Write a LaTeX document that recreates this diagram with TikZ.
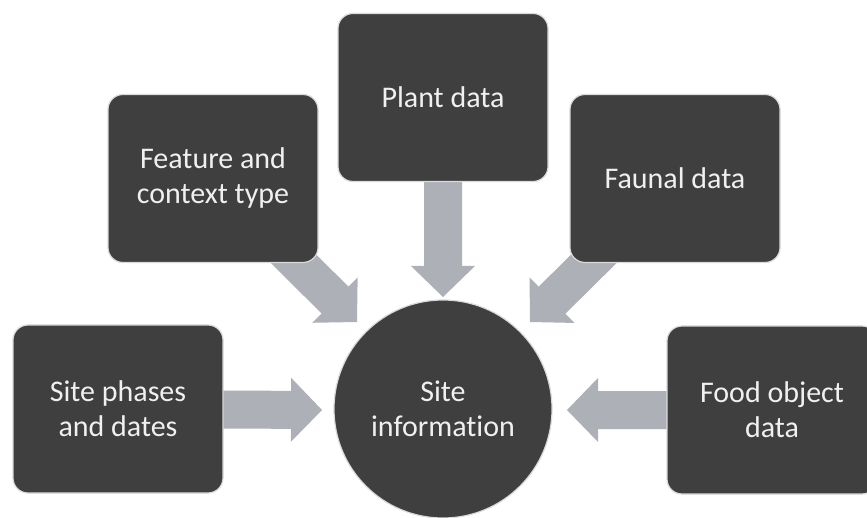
\documentclass[tikz,border=0pt]{standalone}
\usepackage{fontspec}
\setmainfont[Ligatures=NoCommon]{Carlito}
\usetikzlibrary{calc,backgrounds}
\definecolor{boxfill}{RGB}{63,63,63}
\definecolor{arrowfill}{RGB}{173,176,183}
\definecolor{rimcol}{RGB}{218,218,218}
\definecolor{textcol}{RGB}{240,240,240}
% block arrow from #1 (start, hidden behind box) to #2 (tip)
\newcommand\blockarrow[2]{%
  \coordinate (ba) at ($(#2)!31pt!(#1)$);
  \fill[arrowfill]
    ($(#1)!19pt!90:(#2)$) -- ($(ba)!19pt!90:(#2)$) -- ($(ba)!32pt!90:(#2)$)
    -- (#2)
    -- ($(ba)!32pt!-90:(#2)$) -- ($(ba)!19pt!-90:(#2)$) -- ($(#1)!19pt!-90:(#2)$)
    -- cycle;}
\begin{document}
\begin{tikzpicture}[x=1pt,y=-1pt,
  infobox/.style={rectangle, rounded corners=15pt, minimum width=210pt,
    minimum height=168pt, inner sep=0pt, fill=boxfill, draw=rimcol,
    line width=1.2pt, align=center, text=textcol,
    font=\fontsize{30}{35}\selectfont},
  hub/.style={circle, minimum size=218pt, inner sep=0pt, fill=boxfill,
    draw=rimcol, line width=1.2pt, align=center, text=textcol,
    font=\fontsize{30}{35}\selectfont}]
\useasboundingbox (0,0) rectangle (867,518);

\node[infobox] (s) at (118,409) {Site phases\\and dates};
\node[infobox] (f) at (213,178.5) {Feature and\\context type};
\node[infobox] (p) at (443,97.5) {Plant data};
\node[infobox] (a) at (675,178.5) {Faunal data};
\node[infobox] (o) at (772,410) {Food object\\data};
\node[hub] (c) at (443,409) {Site\\information};

\coordinate (ts) at (322,410);
\coordinate (tf) at (357,322);
\coordinate (tp) at (443,297);
\coordinate (ta) at (530,322);
\coordinate (to) at (567,410);

\begin{scope}[on background layer]
  \fill[white] (0,0) rectangle (867,518);
  \blockarrow{s.center}{ts}
  \blockarrow{f.center}{tf}
  \blockarrow{p.center}{tp}
  \blockarrow{a.center}{ta}
  \blockarrow{o.center}{to}
\end{scope}
\end{tikzpicture}
\end{document}
